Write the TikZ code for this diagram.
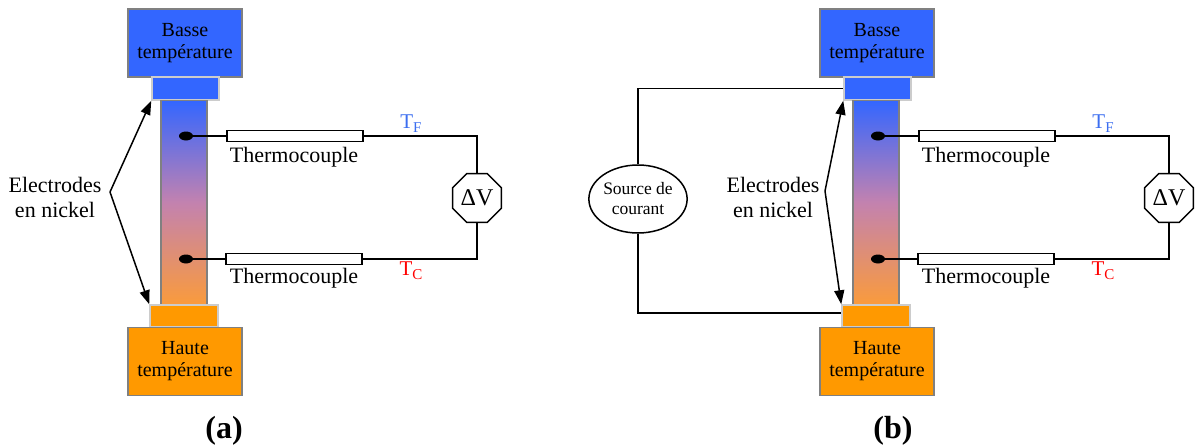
\documentclass[tikz,border=0pt]{standalone}
\usepackage{fontspec}
\setmainfont{Liberation Serif}
\usetikzlibrary{shapes.geometric,arrows.meta}

\definecolor{coldblue}{RGB}{51,102,255}
\definecolor{hotorange}{RGB}{255,153,0}
\definecolor{barorange}{RGB}{250,155,60}
\definecolor{barmid}{RGB}{195,130,175}
\definecolor{tfblue}{RGB}{60,110,240}

\newcommand{\Tsub}[1]{T\raisebox{-0.4ex}{\fontsize{15}{15}\selectfont #1}}

\begin{document}
\begin{tikzpicture}[x=1pt, y=-1pt,
			every node/.style={inner sep=0pt},
			reservoir/.style={draw=gray, line width=1.5pt, minimum width=114pt, minimum height=68pt, align=center, font=\fontsize{20}{22}\selectfont},
			electrode/.style={draw=gray!40, line width=1.5pt, minimum width=67pt, minimum height=22pt},
			sample/.style={draw=gray, line width=1.2pt, minimum width=46pt, minimum height=204pt, top color=coldblue, bottom color=barorange, middle color=barmid},
			junction/.style={ellipse, fill=black, minimum width=14pt, minimum height=9pt},
			probe/.style={draw, fill=white, line width=1.5pt, minimum width=136pt, minimum height=11pt},
			caption/.style={font=\fontsize{22}{25}\selectfont},
			voltmeter/.style={regular polygon, regular polygon sides=8, draw, line width=1.5pt, minimum size=53pt, font=\fontsize{24}{24}\selectfont},
			source/.style={ellipse, draw, line width=1.5pt, minimum width=92pt, minimum height=68pt, align=center, font=\fontsize{17.5}{20}\selectfont},
			templabel/.style={font=\fontsize{21}{21}\selectfont},
			panel/.style={font=\fontsize{32}{32}\selectfont\bfseries},
			wire/.style={line width=1.5pt},
			pointer/.style={line width=1.5pt, -{Triangle[length=14pt,width=10pt]}}]
			
			\useasboundingbox (0,0) rectangle (1196,447);
			
			% Panel (a): sample between the two reservoirs
			\node[reservoir, fill=coldblue] (coldA) at (185,43) {Basse\\température};
			\node[electrode, fill=coldblue, minimum height=23pt] (topA) at (185.5,88.5) {};
			\node[sample] (barA) at (184,202.5) {};
			\node[electrode, fill=hotorange, minimum width=68pt] (botA) at (184,316) {};
			\node[reservoir, fill=hotorange] (hotA) at (185,361.5) {Haute\\température};
			
			% Panel (a): thermocouples and voltmeter
			\node[junction] (jFA) at (186,136) {};
			\node[junction] (jCA) at (186,259) {};
			\node[probe] (tcFA) at (295,136) {};
			\node[probe] (tcCA) at (294,259) {};
			\node[caption] (lFA) at (294,157) {Thermocouple};
			\node[caption] (lCA) at (294,278) {Thermocouple};
			\node[voltmeter] (dvA) at (477,198) {ΔV};
			\node[templabel, text=tfblue] (TFA) at (411,124) {\Tsub{F}};
			\node[templabel, text=red] (TCA) at (411,271) {\Tsub{C}};
			
			% Panel (a): electrode labels
			\node[caption, align=center] (elA) at (55,197) {Electrodes\\en nickel};
			\coordinate (eaA) at (110,192);
			\node[panel] (capA) at (224,431) {(a)};
			
			\draw[wire] (jFA) -- (tcFA);
			\draw[wire] (tcFA) -| (dvA);
			\draw[wire] (jCA) -- (tcCA);
			\draw[wire] (tcCA) -| (dvA);
			\draw[pointer] (eaA) -- (topA.south west);
			\draw[pointer] (eaA) -- (botA.north west);
			
			% Panel (b): sample between the two reservoirs
			\node[reservoir, fill=coldblue] (coldB) at (877,43) {Basse\\température};
			\node[electrode, fill=coldblue, minimum height=23pt] (topB) at (877.5,88.5) {};
			\node[sample] (barB) at (876,202.5) {};
			\node[electrode, fill=hotorange, minimum width=68pt] (botB) at (876,316) {};
			\node[reservoir, fill=hotorange] (hotB) at (877,361.5) {Haute\\température};
			
			% Panel (b): thermocouples and voltmeter
			\node[junction] (jFB) at (878,136) {};
			\node[junction] (jCB) at (878,259) {};
			\node[probe] (tcFB) at (987,136) {};
			\node[probe] (tcCB) at (986,259) {};
			\node[caption] (lFB) at (986,157) {Thermocouple};
			\node[caption] (lCB) at (986,278) {Thermocouple};
			\node[voltmeter] (dvB) at (1169,198) {ΔV};
			\node[templabel, text=tfblue] (TFB) at (1103,124) {\Tsub{F}};
			\node[templabel, text=red] (TCB) at (1103,271) {\Tsub{C}};
			
			% Panel (b): current source and electrode labels
			\node[source] (srcB) at (638,199) {Source de\\courant};
			\node[caption, align=center] (elB) at (773,197) {Electrodes\\en nickel};
			\coordinate (eaB) at (825,191);
			\node[panel] (capB) at (893,431) {(b)};
			
			\draw[wire] (jFB) -- (tcFB);
			\draw[wire] (tcFB) -| (dvB);
			\draw[wire] (jCB) -- (tcCB);
			\draw[wire] (tcCB) -| (dvB);
			\draw[wire] (srcB) |- (topB);
			\draw[wire] (srcB) |- ([yshift=3pt]botB.west);
			\draw[pointer] (eaB) -- (topB.south west);
			\draw[pointer] (eaB) -- (botB.north west);
		\end{tikzpicture}
\end{document}
